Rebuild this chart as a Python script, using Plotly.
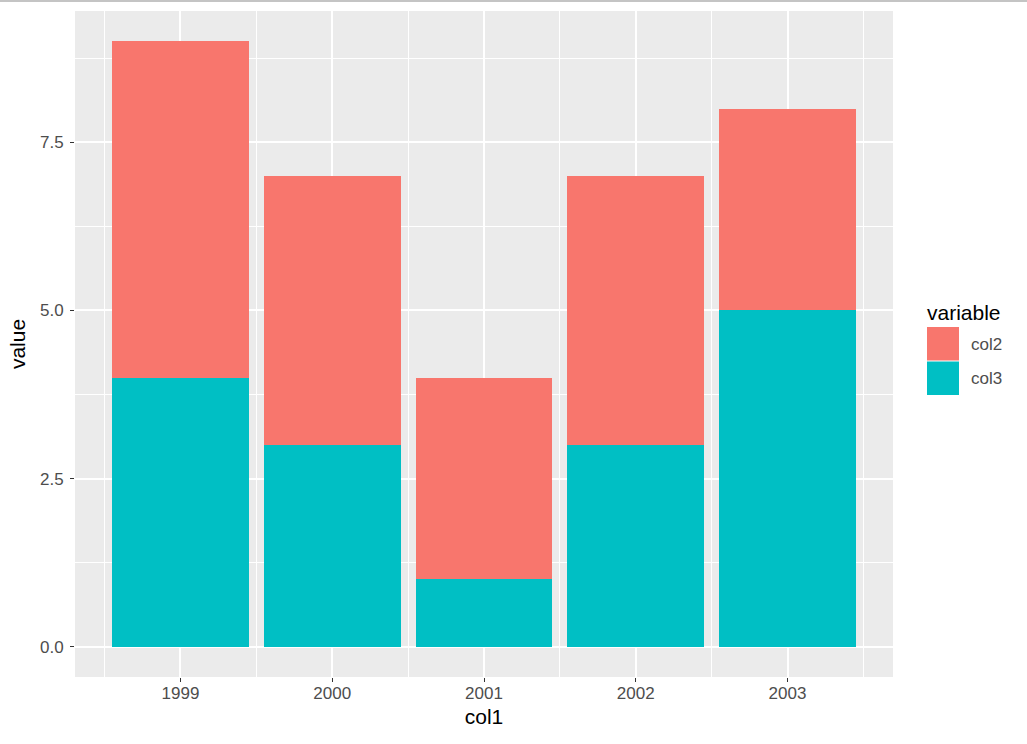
import plotly.graph_objects as go

years = [1999, 2000, 2001, 2002, 2003]
col2 = [5, 4, 3, 4, 3]
col3 = [4, 3, 1, 3, 5]
series_names = ["col3", "col2"]
series_values = [col3, col2]
series_colors = ["#00BFC4", "#F8766D"]
y_tickvals = [0, 2.5, 5, 7.5]
y_ticktext = ["0.0", "2.5", "5.0", "7.5"]
x_ticktext = [str(y) for y in years]

W, H = 1027, 744
L, R, T, B = 75, 134, 11, 67
pw, ph = W - L - R, H - T - B

def px(x):
    return (x - L) / pw

def py(y):
    return (H - B - y) / ph

fig = go.Figure()
for name, vals, col in zip(series_names, series_values, series_colors):
    fig.add_trace(go.Bar(x=years, y=vals, name=name, marker=dict(color=col, line=dict(width=0)),
                         width=0.9, showlegend=False))

font = "Liberation Sans, Arial, sans-serif"
fig.update_layout(
    barmode="stack",
    width=W, height=H,
    margin=dict(l=L, r=R, t=T, b=B),
    paper_bgcolor="white",
    plot_bgcolor="#EBEBEB",
    font=dict(family=font, color="#4D4D4D", size=17),
    xaxis=dict(
        range=[1998.305, 2003.695], tickmode="array", tickvals=years, ticktext=x_ticktext,
        showgrid=True, gridcolor="white", gridwidth=2, zeroline=False,
        ticks="outside", ticklen=4, tickwidth=1, tickcolor="#333333",
        tickfont=dict(size=17, color="#4D4D4D"), ticklabelstandoff=-3,
        minor=dict(tickmode="array", tickvals=[1998.5, 1999.5, 2000.5, 2001.5, 2002.5, 2003.5],
                   showgrid=True, gridcolor="white", gridwidth=1, ticks=""),
        title=dict(text="col1", font=dict(size=21, color="black"), standoff=6),
        fixedrange=True,
    ),
    yaxis=dict(
        range=[-0.45, 9.45], tickmode="array", tickvals=y_tickvals, ticktext=y_ticktext,
        showgrid=True, gridcolor="white", gridwidth=2, zeroline=False,
        ticks="outside", ticklen=4, tickwidth=1, tickcolor="#333333",
        tickfont=dict(size=17, color="#4D4D4D"), ticklabelstandoff=3,
        minor=dict(tickmode="array", tickvals=[1.25, 3.75, 6.25, 8.75],
                   showgrid=True, gridcolor="white", gridwidth=1, ticks=""),
        title=dict(text="value", font=dict(size=21, color="black"), standoff=8),
        fixedrange=True,
    ),
)

# top separator line of the screenshot
fig.add_shape(type="line", xref="paper", yref="paper", x0=px(0), x1=px(W), y0=py(1), y1=py(1),
              line=dict(color="#C4C4C4", width=2))

# legend drawn to match ggplot style
fig.add_annotation(xref="paper", yref="paper", x=px(925), y=py(312), text="variable",
                   showarrow=False, xanchor="left", yanchor="middle",
                   font=dict(size=21, color="black", family=font))
legend_order = ["col2", "col3"]
for i, name in enumerate(legend_order):
    col = series_colors[series_names.index(name)]
    top = 327 + i * 34.5
    fig.add_shape(type="rect", xref="paper", yref="paper",
                  x0=px(927), x1=px(959), y0=py(top), y1=py(top + 33.5),
                  fillcolor=col, line=dict(width=0))
    fig.add_annotation(xref="paper", yref="paper", x=px(969), y=py(top + 17), text=name,
                       showarrow=False, xanchor="left", yanchor="middle",
                       font=dict(size=17, color="#4D4D4D", family=font))

fig.write_html("out.html", config={"displayModeBar": False},
               post_script="document.body.style.margin='0';document.body.style.overflow='hidden';")
